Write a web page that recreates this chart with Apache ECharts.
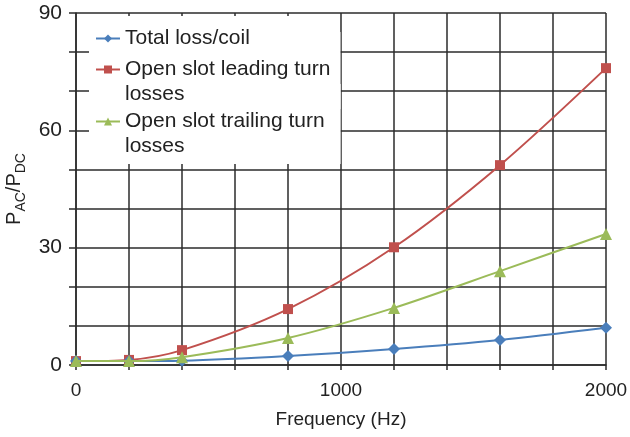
<!DOCTYPE html>
<html>
<head>
<meta charset="utf-8">
<script src="https://cdn.jsdelivr.net/npm/echarts@6/dist/echarts.min.js"></script>
<style>
  html, body { margin: 0; padding: 0; background: #fff; }
  #chart { width: 630px; height: 437px; }
</style>
</head>
<body>
<div id="chart"></div>
<script>
// frequency (Hz)
var freq = [0, 200, 400, 800, 1200, 1600, 2000];
// PAC/PDC
var totalLoss = [1.0, 1.0, 1.1, 2.3, 4.1, 6.4, 9.5];
var leadingTurn = [1.0, 1.3, 3.8, 14.3, 30.1, 51.1, 75.9];
var trailingTurn = [1.0, 1.0, 2.0, 6.9, 14.6, 24.0, 33.5];
var seriesNames = ['Total loss/coil', 'Open slot leading turn\nlosses', 'Open slot trailing turn\nlosses'];

function pairs(xs, ys) {
    return xs.map(function (x, i) { return [x, ys[i]]; });
}

var dom = document.getElementById('chart');
var chart = echarts.init(dom);
var font = 'Liberation Sans, Arial, sans-serif';
var gridColor = '#2b2b2b';
var textColor = '#222';

// one legend per entry so the icon sits on the first text line (Excel style);
// a blank leading line keeps the first line centred on the icon
var legendTop = [16, 32, 84];
var legendPad = [[10, 90, 4, 6], [0, 10, 2, 6], [0, 16, 5, 6]];
var legends = seriesNames.map(function (n, i) {
    return {
        left: 89,
        top: legendTop[i],
        z: 10 - i,
        orient: 'vertical',
        itemWidth: 24,
        itemHeight: 10,
        backgroundColor: '#fff',
        padding: legendPad[i],
        formatter: function (name) {
            return name.indexOf('\n') >= 0 ? ' \n' + name : name;
        },
        textStyle: { fontSize: 21, color: textColor, lineHeight: 25, fontFamily: font },
        data: [n]
    };
});

var option = {
    animation: false,
    textStyle: { fontFamily: font },
    grid: { left: 76, right: 24, top: 13, bottom: 72, outerBoundsMode: 'none' },
    legend: legends,
    xAxis: {
        type: 'value',
        min: 0,
        max: 2000,
        interval: 200,
        name: 'Frequency (Hz)',
        nameLocation: 'middle',
        nameGap: 45,
        nameTextStyle: { fontSize: 19, color: textColor },
        axisLine: { lineStyle: { color: gridColor, width: 1.5 } },
        axisTick: { show: true, length: 5, lineStyle: { color: gridColor, width: 1.5 } },
        axisLabel: {
            fontSize: 19, color: textColor, margin: 16,
            formatter: function (v) { return v % 1000 === 0 ? String(v) : ''; }
        },
        splitLine: { show: true, lineStyle: { color: gridColor, width: 1.5 } }
    },
    yAxis: {
        type: 'value',
        min: 0,
        max: 90,
        interval: 10,
        name: '{b|P}{s|AC}{b|/P}{s|DC}',
        nameLocation: 'middle',
        nameGap: 45,
        nameTextStyle: {
            rich: {
                b: { fontSize: 20, color: textColor, fontFamily: font, lineHeight: 26, verticalAlign: 'middle' },
                s: { fontSize: 14, color: textColor, fontFamily: font, verticalAlign: 'bottom', padding: [9, 0, 0, 0] }
            }
        },
        axisLine: { show: true, lineStyle: { color: gridColor, width: 1.5 } },
        axisTick: { show: true, length: 7, lineStyle: { color: gridColor, width: 1.5 } },
        axisLabel: {
            fontSize: 21, color: textColor, margin: 14,
            formatter: function (v) { return v % 30 === 0 ? String(v) : ''; }
        },
        splitLine: { show: true, lineStyle: { color: gridColor, width: 1.5 } }
    },
    series: [{
        name: seriesNames[0],
        type: 'line',
        smooth: 0.3,
        symbol: 'diamond',
        symbolSize: 12,
        color: '#4a7ebb',
        lineStyle: { width: 2 },
        data: pairs(freq, totalLoss),
        z: 5
    }, {
        name: seriesNames[1],
        type: 'line',
        smooth: 0.3,
        symbol: 'rect',
        symbolSize: 10,
        color: '#c0504d',
        lineStyle: { width: 2 },
        data: pairs(freq, leadingTurn),
        z: 4
    }, {
        name: seriesNames[2],
        type: 'line',
        smooth: 0.3,
        symbol: 'triangle',
        symbolSize: 12,
        color: '#9bbb59',
        lineStyle: { width: 2 },
        data: pairs(freq, trailingTurn),
        z: 6
    }]
};

if (option && typeof option === 'object') {
    chart.setOption(option);
}

window.addEventListener('resize', function () {
    chart.resize();
});
</script>
</body>
</html>
